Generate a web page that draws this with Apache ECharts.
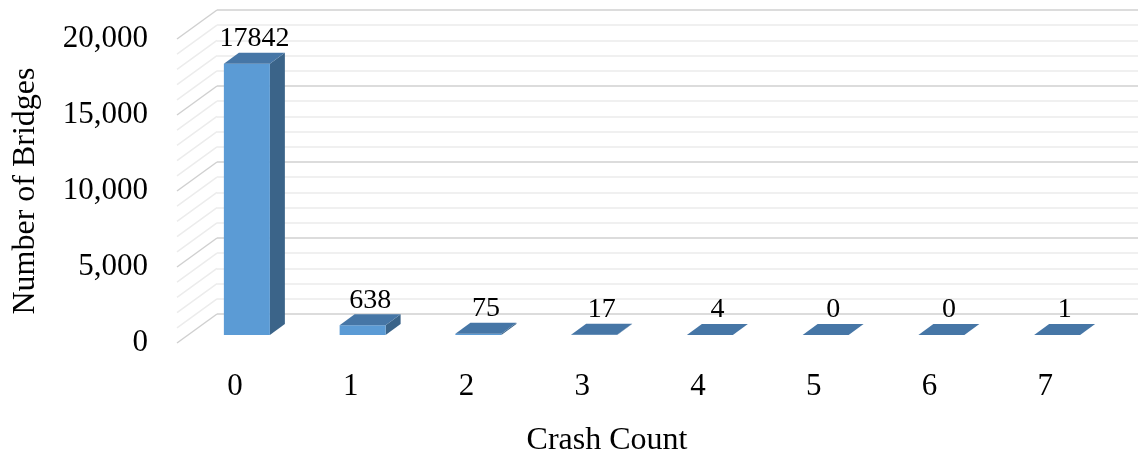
<!DOCTYPE html>
<html>
<head>
<meta charset="utf-8">
<script src="https://cdn.jsdelivr.net/npm/echarts@6/dist/echarts.min.js"></script>
<style>
  html, body { margin: 0; padding: 0; background: #fff; }
  #chart { width: 1138px; height: 456px; }
</style>
</head>
<body>
<div id="chart"></div>
<script>
// crash count categories and number of bridges
var categories = ['0', '1', '2', '3', '4', '5', '6', '7'];
var bridgeCounts = [17842, 638, 75, 17, 4, 0, 0, 1];
// gridline values on the walls (major every 5000, minor every 1000)
var wallLines = [0, 1000, 2000, 3000, 4000, 5000, 6000, 7000, 8000, 9000, 10000,
    11000, 12000, 13000, 14000, 15000, 16000, 17000, 18000, 19000, 20000];

var FONT = "'Liberation Serif', 'Times New Roman', serif";
var WALL_DX = 40, WALL_DY = -29;   // depth of the side wall
var BAR_OX = 12, BAR_OY = -8;      // bar front face offset from front plane
var BAR_W = 46, BAR_DX = 15, BAR_DY = -11;

var chart = echarts.init(document.getElementById('chart'));

function renderBar(params, api) {
    var i = api.value(0), v = api.value(1);
    var top = api.coord([i, v]);
    var base = api.coord([i, 0]);
    var x0 = top[0] + BAR_OX - BAR_W / 2, x1 = x0 + BAR_W;
    var yt = top[1] + BAR_OY, yb = base[1] + BAR_OY;
    return {
        type: 'group',
        children: [
            { type: 'polygon', shape: { points: [[x1, yt], [x1 + BAR_DX, yt + BAR_DY], [x1 + BAR_DX, yb + BAR_DY], [x1, yb]] },
              style: { fill: '#3b6489' } },
            { type: 'polygon', shape: { points: [[x0, yt], [x1, yt], [x1, yb], [x0, yb]] },
              style: { fill: '#5b9bd5' } },
            { type: 'polygon', shape: { points: [[x0, yt], [x1, yt], [x1 + BAR_DX, yt + BAR_DY], [x0 + BAR_DX, yt + BAR_DY]] },
              style: { fill: '#4676a6' } },
            { type: 'text', style: { text: String(v), x: (x0 + x1) / 2 + BAR_DX / 2, y: yt + BAR_DY,
                align: 'center', verticalAlign: 'bottom', fontSize: 28, fontFamily: FONT, fill: '#000' } }
        ]
    };
}

function renderSideLine(params, api) {
    var v = api.value(1);
    var p = api.coord([0, v]);
    var x = p[0] - api.size([1, 0])[0] / 2;
    var major = v % 5000 === 0;
    return {
        type: 'line',
        shape: { x1: x, y1: p[1], x2: x + WALL_DX, y2: p[1] + WALL_DY },
        style: { stroke: major ? '#d0d0d0' : '#ececec', lineWidth: 1.5 }
    };
}

var option = {
    animation: false,
    title: [
        { text: 'Crash Count', left: 602, top: 420, textAlign: 'center',
          textStyle: { fontFamily: FONT, fontSize: 32, fontWeight: 'normal', color: '#000' } }
    ],
    grid: [
        { left: 177, right: 35, top: 39, bottom: 113, outerBoundsMode: 'none' },
        { left: 217, right: -5, top: 10, bottom: 142, outerBoundsMode: 'none' }
    ],
    xAxis: [
        { type: 'category', gridIndex: 0, data: categories,
          axisLine: { show: false }, axisTick: { show: false },
          axisLabel: { margin: 28, fontFamily: FONT, fontSize: 31, color: '#000' } },
        { type: 'category', gridIndex: 1, data: categories, show: false }
    ],
    yAxis: [
        { type: 'value', gridIndex: 0, min: 0, max: 20000, interval: 5000,
          name: 'Number of Bridges', nameLocation: 'middle', nameGap: 135,
          nameTextStyle: { fontFamily: FONT, fontSize: 32, color: '#000' },
          axisLine: { show: false }, axisTick: { show: false }, splitLine: { show: false },
          axisLabel: { margin: 29, fontFamily: FONT, fontSize: 31, color: '#000',
              formatter: function (v) { return v.toLocaleString('en-US'); } } },
        { type: 'value', gridIndex: 1, min: 0, max: 20000, interval: 5000,
          axisLine: { show: false }, axisTick: { show: false }, axisLabel: { show: false },
          splitLine: { show: true, lineStyle: { color: '#d0d0d0', width: 1.5 } },
          minorTick: { show: false, splitNumber: 5 },
          minorSplitLine: { show: true, lineStyle: { color: '#ececec', width: 1.5 } } }
    ],
    series: [
        { type: 'custom', xAxisIndex: 0, yAxisIndex: 0, renderItem: renderSideLine,
          data: wallLines.map(function (v) { return [0, v]; }), silent: true },
        { type: 'custom', xAxisIndex: 0, yAxisIndex: 0, renderItem: renderBar,
          data: bridgeCounts.map(function (v, i) { return [i, v]; }) }
    ]
};
chart.setOption(option);
</script>
</body>
</html>
